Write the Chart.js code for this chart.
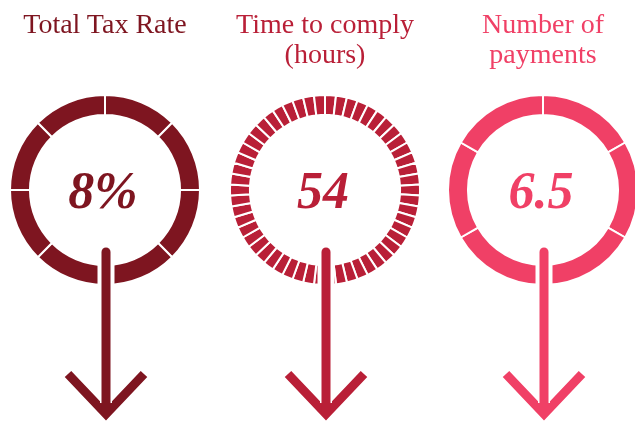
<!DOCTYPE html>
<html>
<head>
<meta charset="utf-8">
<script src="https://cdn.jsdelivr.net/npm/chart.js@4.4.1/dist/chart.umd.min.js"></script>
<style>
  html, body { margin: 0; padding: 0; background: #fff; }
  body { width: 635px; height: 421px; position: relative; overflow: hidden; }
  .col { position: absolute; top: 0; width: 220px; height: 421px; }
  .col canvas { position: absolute; left: 0; top: 0; }
  .title {
    position: absolute; left: 0; top: 9px; width: 220px;
    text-align: center;
    font-family: "Liberation Serif", serif;
    font-size: 28px; line-height: 30px;
  }
</style>
</head>
<body>
<div class="col" id="col1"><canvas id="ring1" width="220" height="421"></canvas><div class="title" id="title1"></div></div>
<div class="col" id="col2"><canvas id="ring2" width="220" height="421"></canvas><div class="title" id="title2"></div></div>
<div class="col" id="col3"><canvas id="ring3" width="220" height="421"></canvas><div class="title" id="title3"></div></div>
<script>
'use strict'

// data
const titles = [['Total Tax Rate'], ['Time to comply', '(hours)'], ['Number of', 'payments']];
const centerLabels = ['8%', '54', '6.5'];

// each ring is split into equal segments
const ringSegments1 = [1, 1, 1, 1, 1, 1, 1, 1];
const ringSegments2 = [
  1, 1, 1, 1, 1, 1, 1, 1, 1, 1, 1, 1, 1, 1, 1, 1, 1, 1,
  1, 1, 1, 1, 1, 1, 1, 1, 1, 1, 1, 1, 1, 1, 1, 1, 1, 1,
  1, 1, 1, 1, 1, 1, 1, 1, 1, 1, 1, 1, 1, 1, 1, 1, 1, 1
];
const ringSegments3 = [1, 1, 1, 1, 1, 1];

// styles
const colors = ['#7e1520', '#b91f37', '#f04066'];
const centersX = [105, 325, 543];
const gapWidths = [2, 2, 2];

const arrowPlugin = {
  id: 'arrowPlugin',
  afterDraw(chart, args, opts) {
    const ctx = chart.ctx;
    const a = chart.chartArea;
    const cx = (a.left + a.right) / 2;
    const cy = (a.top + a.bottom) / 2;
    const x = cx + 1;
    ctx.save();

    // label in the middle
    ctx.fillStyle = opts.color;
    ctx.font = 'italic bold 52px "Liberation Serif", serif';
    ctx.textAlign = 'center';
    ctx.textBaseline = 'alphabetic';
    ctx.fillText(opts.label, cx - 2, cy + 18);

    // clear the bottom gap of the ring
    ctx.strokeStyle = '#ffffff';
    ctx.lineCap = 'butt';
    ctx.lineWidth = 17;
    ctx.beginPath();
    ctx.moveTo(x, cy + 60);
    ctx.lineTo(x, a.bottom + 4);
    ctx.stroke();

    // chevron
    ctx.strokeStyle = opts.color;
    ctx.lineWidth = 9;
    ctx.lineJoin = 'miter';
    ctx.beginPath();
    ctx.moveTo(x - 38, 374);
    ctx.lineTo(x, 414);
    ctx.lineTo(x + 38, 374);
    ctx.stroke();

    // stem with a thin white edge
    ctx.strokeStyle = '#ffffff';
    ctx.lineWidth = 12;
    ctx.beginPath();
    ctx.moveTo(x, cy + 62);
    ctx.lineTo(x, 403);
    ctx.stroke();

    ctx.strokeStyle = opts.color;
    ctx.lineWidth = 9;
    ctx.beginPath();
    ctx.moveTo(x, cy + 62);
    ctx.lineTo(x, 414);
    ctx.stroke();

    ctx.fillStyle = opts.color;
    ctx.beginPath();
    ctx.arc(x, cy + 62, 4.5, Math.PI, 0);
    ctx.fill();

    ctx.restore();
  }
};

function makeRing(i, segments) {
  const col = document.getElementById('col' + (i + 1));
  col.style.left = (centersX[i] - 110) + 'px';

  const title = document.getElementById('title' + (i + 1));
  title.style.color = colors[i];
  title.innerHTML = titles[i].join('<br>');

  const ctx = document.getElementById('ring' + (i + 1)).getContext('2d');
  return new Chart(ctx, {
    type: 'doughnut',
    data: {
      datasets: [{
        data: segments,
        backgroundColor: colors[i],
        borderColor: '#ffffff',
        borderWidth: gapWidths[i]
      }]
    },
    options: {
      responsive: false,
      animation: false,
      events: [],
      cutout: '79%',
      rotation: 0,
      layout: { padding: { top: 94, bottom: 135, left: 14, right: 14 } },
      plugins: {
        legend: { display: false },
        tooltip: { enabled: false },
        arrowPlugin: { label: centerLabels[i], color: colors[i] }
      }
    },
    plugins: [arrowPlugin]
  });
}

makeRing(0, ringSegments1);
makeRing(1, ringSegments2);
makeRing(2, ringSegments3);
</script>
</body>
</html>
